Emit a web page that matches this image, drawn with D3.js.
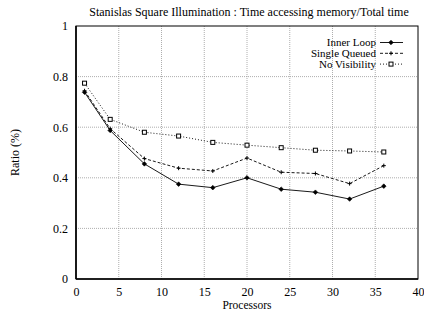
<!DOCTYPE html>
<html>
<head>
<meta charset="utf-8">
<script src="https://cdn.jsdelivr.net/npm/d3@7"></script>
<style>
  body { margin: 0; background: #fff; }
  text { font-family: "Liberation Serif", "Times New Roman", serif; fill: #000; }
</style>
</head>
<body>
<div id="chart"></div>
<script>
// data
var processors = [1, 4, 8, 12, 16, 20, 24, 28, 32, 36];
var innerLoop    = [0.738, 0.587, 0.455, 0.375, 0.361, 0.400, 0.355, 0.343, 0.316, 0.367];
var singleQueued = [0.744, 0.594, 0.476, 0.438, 0.427, 0.478, 0.422, 0.417, 0.377, 0.448];
var noVisibility = [0.774, 0.631, 0.580, 0.565, 0.540, 0.529, 0.519, 0.509, 0.506, 0.502];
var seriesNames = ["Inner Loop", "Single Queued", "No Visibility"];
var xTicks = [0, 5, 10, 15, 20, 25, 30, 35, 40];
var yTicks = [0, 0.2, 0.4, 0.6, 0.8, 1];

var margin = {top: 26, right: 6, bottom: 35, left: 76},
    width = 424 - margin.left - margin.right,
    height = 314 - margin.top - margin.bottom;

var serif = "'Liberation Serif', 'Times New Roman', serif";

var svg = d3.select("#chart")
  .append("svg")
    .attr("width", 424)
    .attr("height", 314)
  .append("g")
    .attr("transform", "translate(" + margin.left + "," + margin.top + ")");

var x = d3.scaleLinear().domain([0, 40]).range([0, width]);
var y = d3.scaleLinear().domain([0, 1]).range([height, 0]);

// grid
svg.append("g")
  .selectAll("line")
  .data(xTicks.slice(1, -1))
  .enter().append("line")
    .attr("x1", function(d) { return x(d); })
    .attr("x2", function(d) { return x(d); })
    .attr("y1", 0).attr("y2", height)
    .attr("stroke", "#999").attr("stroke-width", 0.8)
    .attr("stroke-dasharray", "1,1");
svg.append("g")
  .selectAll("line")
  .data(yTicks.slice(1, -1))
  .enter().append("line")
    .attr("y1", function(d) { return y(d); })
    .attr("y2", function(d) { return y(d); })
    .attr("x1", 0).attr("x2", width)
    .attr("stroke", "#999").attr("stroke-width", 0.8)
    .attr("stroke-dasharray", "1,1");

// axes
var xAxis = svg.append("g")
  .attr("transform", "translate(0," + height + ")")
  .call(d3.axisBottom(x).tickValues(xTicks).tickSize(0).tickPadding(8).tickFormat(d3.format("d")));
var yAxis = svg.append("g")
  .call(d3.axisLeft(y).tickValues(yTicks).tickSize(0).tickPadding(8).tickFormat(function(d) { return d === 0 || d === 1 ? d : d.toFixed(1); }));
[xAxis, yAxis].forEach(function(a) {
  a.attr("font-family", serif).attr("font-size", 12);
  a.select(".domain").remove();
});

// frame
svg.append("rect")
  .attr("width", width).attr("height", height)
  .attr("fill", "none").attr("stroke", "#000").attr("stroke-width", 1);
svg.append("line").attr("x1", 0).attr("x2", width).attr("y1", height).attr("y2", height)
  .attr("stroke", "#000").attr("stroke-width", 1.6);
svg.append("line").attr("x1", 0).attr("x2", 0).attr("y1", 0).attr("y2", height)
  .attr("stroke", "#000").attr("stroke-width", 1.6);

// series
var series = [
  {name: seriesNames[0], values: innerLoop, dash: null, marker: "diamond"},
  {name: seriesNames[1], values: singleQueued, dash: "3,2", marker: "plus"},
  {name: seriesNames[2], values: noVisibility, dash: "1,2", marker: "square"}
];

var line = d3.line()
  .x(function(d) { return x(d[0]); })
  .y(function(d) { return y(d[1]); });

function drawMarker(g, type, cx, cy) {
  if (type === "diamond") {
    g.append("path")
      .attr("d", "M" + cx + "," + (cy - 2.3) + "L" + (cx + 2.3) + "," + cy + "L" + cx + "," + (cy + 2.3) + "L" + (cx - 2.3) + "," + cy + "Z")
      .attr("fill", "#000").attr("stroke", "#000").attr("stroke-width", 0.6);
  } else if (type === "plus") {
    g.append("path")
      .attr("d", "M" + (cx - 2) + "," + cy + "H" + (cx + 2) + "M" + cx + "," + (cy - 2) + "V" + (cy + 2))
      .attr("stroke", "#000").attr("stroke-width", 1);
  } else {
    g.append("rect")
      .attr("x", cx - 2).attr("y", cy - 2).attr("width", 4).attr("height", 4)
      .attr("fill", "#fff").attr("stroke", "#000").attr("stroke-width", 1);
  }
}

series.forEach(function(s) {
  var pts = processors.map(function(p, i) { return [p, s.values[i]]; });
  svg.append("path")
    .datum(pts)
    .attr("d", line)
    .attr("fill", "none")
    .attr("stroke", "#000")
    .attr("stroke-width", 0.9)
    .attr("stroke-dasharray", s.dash);
  var mg = svg.append("g");
  pts.forEach(function(p) { drawMarker(mg, s.marker, x(p[0]), y(p[1])); });
});

// legend
var legend = svg.append("g").attr("transform", "translate(" + (width - 42) + ",16.5)");
series.forEach(function(s, i) {
  var ly = i * 10.8;
  legend.append("text")
    .attr("x", 0).attr("y", ly).attr("dy", "0.35em")
    .attr("text-anchor", "end")
    .attr("font-family", serif).attr("font-size", 11)
    .text(s.name);
  legend.append("line")
    .attr("x1", 4).attr("x2", 27).attr("y1", ly).attr("y2", ly)
    .attr("stroke", "#000").attr("stroke-width", 0.9)
    .attr("stroke-dasharray", s.dash);
  drawMarker(legend, s.marker, 15, ly);
});

// title and labels
svg.append("text")
  .attr("x", width / 2 + 2).attr("y", -10)
  .attr("text-anchor", "middle")
  .attr("font-family", serif).attr("font-size", 12)
  .text("Stanislas Square Illumination : Time accessing memory/Total time");
svg.append("text")
  .attr("x", width / 2).attr("y", height + 30)
  .attr("text-anchor", "middle")
  .attr("font-family", serif).attr("font-size", 11.5)
  .text("Processors");
svg.append("text")
  .attr("transform", "translate(" + (-57) + "," + (height / 2) + ") rotate(-90)")
  .attr("text-anchor", "middle")
  .attr("font-family", serif).attr("font-size", 12)
  .text("Ratio (%)");
</script>
</body>
</html>
